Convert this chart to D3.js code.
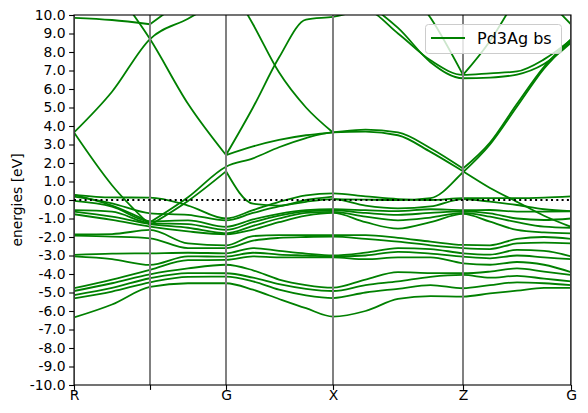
<!DOCTYPE html>
<html><head><meta charset="utf-8">
<script src="https://cdn.jsdelivr.net/npm/d3@7"></script>
<style>body{margin:0;background:#fff}svg{display:block}</style></head>
<body><svg id="c" width="588" height="413"></svg>
<script>
// k-path grid (distance units) and labelled high-symmetry ticks
const kGrid = [0, 38, 76, 114, 152, 179, 205, 232, 259, 291.5, 324, 356.5, 389, 416, 443, 470, 497];
const kTickPos = [0, 76, 152, 259, 389, 497];
const kTickLabels = ["R", "", "G", "X", "Z", "G"];
const yTickValues = [-10, -9, -8, -7, -6, -5, -4, -3, -2, -1, 0, 1, 2, 3, 4, 5, 6, 7, 8, 9, 10];
const legendLabel = "Pd3Ag bs";

// valence bands (eV) at each kGrid point
const band01 = [0.28, 0.14, 0.13, -0.3, -1.0, -0.55, -0.1, 0.25, 0.36, 0.2, 0.05, 0.0, 0.1, 0.1, 0.1, 0.13, 0.2];
const band02 = [0.18, -0.18, -0.72, -0.8, -1.1, -0.7, -0.35, -0.1, 0.05, -0.3, -0.45, -0.35, 0.05, -0.09, -0.27, -0.5, -0.6];
const band03 = [-0.05, -0.36, -1.15, -1.1, -1.45, -1.05, -0.75, -0.55, -0.5, -0.55, -0.6, -0.5, -0.55, -0.54, -0.63, -0.63, -0.62];
const band04 = [-0.55, -0.63, -1.25, -1.3, -1.62, -1.2, -0.85, -0.62, -0.56, -0.7, -0.8, -0.7, -0.62, -0.72, -1.0, -1.08, -1.0];
const band05 = [-0.63, -0.9, -1.3, -1.5, -1.8, -1.4, -1.0, -0.7, -0.64, -0.9, -1.1, -0.95, -0.7, -0.9, -1.2, -1.44, -1.5];
const band06 = [-0.77, -1.08, -1.44, -1.7, -1.85, -1.6, -1.2, -0.85, -0.7, -1.2, -1.55, -1.2, -0.75, -1.17, -1.62, -1.75, -1.8];
const band07 = [-1.86, -1.84, -1.62, -2.35, -2.45, -1.95, -1.9, -1.9, -1.9, -1.9, -2.05, -2.25, -2.43, -2.45, -2.1, -2.0, -2.1];
const band08 = [-1.93, -1.98, -2.07, -2.6, -2.6, -2.2, -2.05, -2.0, -1.98, -2.1, -2.25, -2.45, -2.6, -2.65, -2.35, -2.3, -2.35];
const band09 = [-2.97, -2.9, -2.88, -2.85, -2.88, -2.6, -2.75, -2.9, -3.0, -2.85, -2.6, -2.65, -2.88, -2.95, -2.7, -2.75, -3.05];
const band10 = [-3.05, -3.2, -3.51, -3.05, -3.06, -2.85, -2.95, -3.0, -3.05, -3.0, -2.8, -2.9, -3.06, -3.15, -3.0, -3.1, -3.2];
const band11 = [-4.77, -4.3, -3.78, -3.25, -3.24, -3.05, -3.1, -3.1, -3.1, -3.2, -3.1, -3.1, -3.42, -3.5, -3.35, -3.5, -3.9];
const band12 = [-4.92, -4.5, -4.02, -3.7, -3.5, -3.8, -4.3, -4.6, -4.74, -4.3, -3.9, -3.95, -3.96, -3.87, -3.7, -3.87, -4.05];
const band13 = [-5.14, -4.75, -4.23, -3.95, -3.96, -4.2, -4.55, -4.8, -4.92, -4.6, -4.4, -4.15, -4.05, -4.2, -4.1, -4.25, -4.4];
const band14 = [-5.32, -4.95, -4.45, -4.15, -4.14, -4.4, -4.85, -5.15, -5.3, -5.0, -4.8, -4.6, -4.77, -4.6, -4.45, -4.5, -4.6];
const bandLow = [-6.35, -5.65, -4.7, -4.5, -4.5, -4.85, -5.35, -5.85, -6.3, -6.0, -5.35, -5.2, -5.22, -5.05, -4.9, -4.75, -4.75];

// dispersive bands crossing the Fermi level and conduction bands (null = not drawn there)
const bandV1 = [3.65, 0.8, -1.35, -0.05, 1.55, -0.2, -0.3, 0.0, 0.18, null, null, null, null, null, null, null, null];
const bandV2 = [0.28, -0.3, -1.2, 0.15, 1.8, 2.25, 2.85, 3.35, 3.65, 3.7, 3.5, 2.6, 1.55, 0.65, -0.1, -0.85, -1.45];
const bandP1 = [null, null, null, null, 2.43, 2.9, 3.25, 3.5, 3.65, 3.8, 3.65, 2.8, 1.7, 3.1, 5.2, 7.2, 8.7];
const bandP3 = [null, null, null, null, null, null, null, null, 0.05, 0.02, 0.0, 0.1, 1.5, 3.0, 5.05, 7.1, 8.6];
const bandD1 = [null, null, null, null, 12, 9.5, 6.9, 5.0, 3.65, null, null, null, null, null, null, null, null];
const bandU1 = [9.85, 9.73, 9.5, 11, null, null, null, null, null, null, null, null, null, null, null, null, null];
const bandU2 = [3.65, 5.85, 8.7, 9.8, 11, null, null, null, null, null, null, null, null, null, null, null, null];
const bandU3 = [null, 11.6, 8.7, 5.2, 2.43, 5.0, 7.7, 9.75, 9.9, 10.25, 9.0, 7.55, 6.76, 6.85, 6.95, 7.6, 8.65];
const bandU4 = [null, null, null, null, null, null, null, null, 11, 10.6, 9.3, 7.45, 6.58, 6.62, 6.78, 7.35, 8.5];
const bandU5 = [null, null, null, null, null, null, null, null, null, null, 12, 9.85, 6.76, 8.6, 11, null, null];
const bandU6 = [null, null, null, null, null, null, null, null, null, null, null, null, null, null, null, 11, 9.5];

// kGrid indices where a band has a cusp (the curve is restarted there)
const cuspsV1 = [2, 4];
const cuspsV2 = [2];
const cuspsP1 = [12];
const cuspsU1 = [2];
const cuspsU3 = [4];
const cuspsU5 = [12];
const noCusps = [];

const bandTable = [
  [band01, noCusps], [band02, noCusps], [band03, noCusps], [band04, noCusps], [band05, noCusps],
  [band06, noCusps], [band07, noCusps], [band08, noCusps], [band09, noCusps], [band10, noCusps],
  [band11, noCusps], [band12, noCusps], [band13, noCusps], [band14, noCusps], [bandLow, noCusps],
  [bandV1, cuspsV1], [bandV2, cuspsV2], [bandP1, cuspsP1], [bandP3, noCusps], [bandD1, noCusps],
  [bandU1, cuspsU1], [bandU2, noCusps], [bandU3, cuspsU3], [bandU4, noCusps], [bandU5, cuspsU5], [bandU6, noCusps]
];

const W = 588, H = 413;
const m = {left: 74, right: 571, top: 15, bottom: 385};
const svg = d3.select("#c");
svg.append("rect").attr("width", W).attr("height", H).attr("fill", "#fff");

const x = d3.scaleLinear().domain([0, 497]).range([m.left, m.right]);
const y = d3.scaleLinear().domain([-10, 10]).range([m.bottom, m.top]);

svg.append("defs").append("clipPath").attr("id", "clip")
  .append("rect").attr("x", m.left).attr("y", m.top)
  .attr("width", m.right - m.left).attr("height", m.bottom - m.top);

const plot = svg.append("g").attr("clip-path", "url(#clip)");

const line = d3.line()
  .defined(d => d[1] != null)
  .x(d => x(d[0])).y(d => y(d[1]))
  .curve(d3.curveMonotoneX);

function pieces(values, cusps) {
  const pts = values.map((v, i) => [kGrid[i], v]);
  const out = [];
  let start = 0;
  cusps.forEach(c => { out.push(pts.slice(start, c + 1)); start = c; });
  out.push(pts.slice(start));
  return out;
}
const segments = bandTable.flatMap(([vals, cusps]) => pieces(vals, cusps));

plot.selectAll("path.band").data(segments).join("path")
  .attr("class", "band")
  .attr("d", s => line(s))
  .attr("fill", "none").attr("stroke", "#008000").attr("stroke-width", 1.8)
  .attr("stroke-linejoin", "round").attr("stroke-linecap", "round");

// vertical high-symmetry lines
plot.selectAll("line.vl").data(kTickPos).join("line")
  .attr("class", "vl")
  .attr("x1", d => x(d)).attr("x2", d => x(d))
  .attr("y1", m.top).attr("y2", m.bottom)
  .attr("stroke", "#808080").attr("stroke-width", 2);

// Fermi level
plot.append("line")
  .attr("x1", m.left).attr("x2", m.right)
  .attr("y1", y(0)).attr("y2", y(0))
  .attr("stroke", "#000").attr("stroke-width", 2)
  .attr("stroke-dasharray", "2,3.3");

// frame
svg.append("rect").attr("x", m.left).attr("y", m.top)
  .attr("width", m.right - m.left).attr("height", m.bottom - m.top)
  .attr("fill", "none").attr("stroke", "#000").attr("stroke-width", 1.1);

const font = "DejaVu Sans, sans-serif";
// y axis
const yAxis = d3.axisLeft(y).tickValues(yTickValues).tickFormat(d => d.toFixed(1)).tickSizeOuter(0).tickSize(4.9).tickPadding(3.5);
const gy = svg.append("g").attr("transform", `translate(${m.left},0)`).call(yAxis);
gy.select(".domain").remove();
gy.selectAll("text").attr("font-family", font).attr("font-size", 13.9).attr("fill", "#000");
gy.selectAll("line").attr("stroke", "#000").attr("stroke-width", 1.1);

// x axis
const xAxis = d3.axisBottom(x).tickValues(kTickPos).tickFormat((d, i) => kTickLabels[i]).tickSizeOuter(0).tickSize(4.9).tickPadding(0.5);
const gx = svg.append("g").attr("transform", `translate(0,${m.bottom})`).call(xAxis);
gx.select(".domain").remove();
gx.selectAll("text").attr("font-family", font).attr("font-size", 13.9).attr("fill", "#000");
gx.selectAll("line").attr("stroke", "#000").attr("stroke-width", 1.1);

// y label
svg.append("text").attr("transform", `translate(22,${(m.top + m.bottom) / 2}) rotate(-90)`)
  .attr("text-anchor", "middle").attr("font-family", font).attr("font-size", 13.9)
  .text("energies [eV]");

// legend
const lg = svg.append("g");
lg.append("rect").attr("x", 425.5).attr("y", 24.5).attr("width", 136).attr("height", 29).attr("rx", 3)
  .attr("fill", "#fff").attr("fill-opacity", 0.8).attr("stroke", "#cccccc").attr("stroke-width", 1);
lg.append("line").attr("x1", 431).attr("x2", 465).attr("y1", 38).attr("y2", 38)
  .attr("stroke", "#008000").attr("stroke-width", 2);
lg.append("text").attr("x", 477).attr("y", 43.5).attr("font-family", font).attr("font-size", 16)
  .text(legendLabel);
</script>
</body></html>
